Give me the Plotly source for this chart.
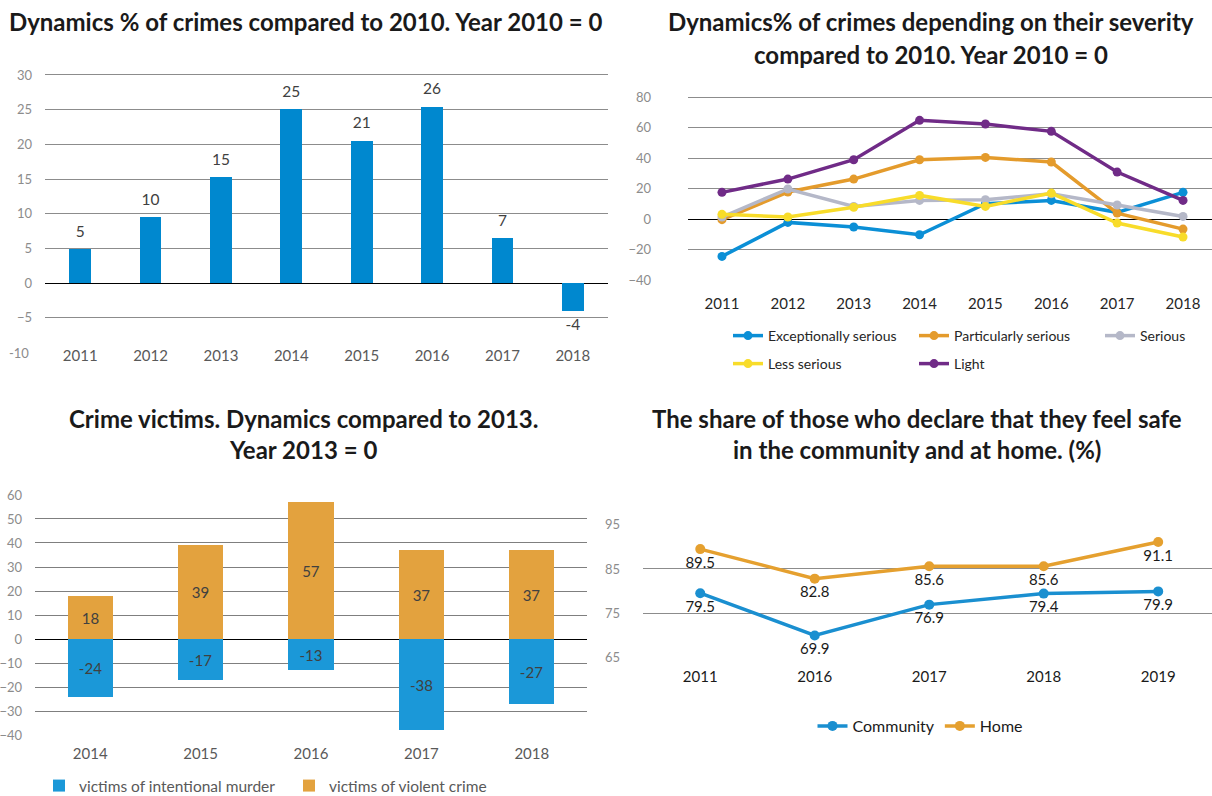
import plotly.graph_objects as go

W, H = 1212, 796

# --- data -------------------------------------------------------------
tl_years = ["2011", "2012", "2013", "2014", "2015", "2016", "2017", "2018"]
tl_values = [5.0, 9.6, 15.3, 25.1, 20.6, 25.5, 6.6, -4.0]

tr_years = ["2011", "2012", "2013", "2014", "2015", "2016", "2017", "2018"]
tr_exceptional = [-24.5, -2.2, -5.2, -10.3, 10.0, 12.2, 4.4, 17.5]
tr_particular = [-0.4, 17.7, 26.2, 38.9, 40.4, 37.4, 3.9, -6.6]
tr_serious = [1.3, 19.7, 8.3, 12.2, 12.7, 16.6, 9.2, 1.7]
tr_less = [3.1, 1.3, 7.7, 15.5, 8.3, 17.0, -2.6, -11.8]
tr_light = [17.5, 26.2, 38.9, 64.7, 62.3, 57.5, 30.8, 12.2]

bl_years = ["2014", "2015", "2016", "2017", "2018"]
bl_murder = [-24, -17, -13, -38, -27]
bl_violent = [18, 39, 57, 37, 37]

br_years = ["2011", "2016", "2017", "2018", "2019"]
br_community = [79.5, 69.9, 76.9, 79.4, 79.9]
br_home = [89.5, 82.8, 85.6, 85.6, 91.1]

FONT = "Lato, 'Open Sans', sans-serif"


def px_x(x):
    return x / W


def px_y(y):
    return 1 - y / H


def xdom(a, b):
    return [px_x(a), px_x(b)]


def ydom(top, bottom):
    return [px_y(bottom), px_y(top)]


fig = go.Figure()

# --- top left: bars ---------------------------------------------------
fig.add_trace(go.Bar(
    x=tl_years, y=tl_values, marker=dict(color="#0088cf", line=dict(width=0)),
    width=0.31, xaxis="x", yaxis="y", showlegend=False, hoverinfo="skip",
))
fig.add_trace(go.Scatter(
    x=tl_years, y=tl_values, mode="markers+text",
    text=[f"{v:.0f}" for v in tl_values],
    textposition=["top center" if v >= 0 else "bottom center" for v in tl_values],
    textfont=dict(size=15.5, color="#404040", family=FONT),
    marker=dict(size=11, color="rgba(0,0,0,0)"),
    xaxis="x", yaxis="y", showlegend=False, hoverinfo="skip", cliponaxis=False,
))

# --- top right: severity lines ----------------------------------------
tr_series = [
    ("Exceptionally serious", tr_exceptional, "#0b8fd6", "legend"),
    ("Particularly serious", tr_particular, "#e49b2c", "legend"),
    ("Serious", tr_serious, "#b5b8c8", "legend"),
    ("Less serious", tr_less, "#f8dc2a", "legend2"),
    ("Light", tr_light, "#702b87", "legend2"),
]
for name, vals, col, leg in tr_series:
    fig.add_trace(go.Scatter(
        x=tr_years, y=vals, name=name, mode="lines+markers",
        line=dict(color=col, width=3.5), marker=dict(size=9, color=col),
        xaxis="x2", yaxis="y2", legend=leg, cliponaxis=False,
    ))

# --- bottom left: victims stacked bars --------------------------------
fig.add_trace(go.Bar(
    x=bl_years, y=bl_murder, name="victims of intentional murder",
    marker=dict(color="#1b98d8", line=dict(width=0)), width=0.41,
    text=[str(v) for v in bl_murder], textposition="inside", insidetextanchor="middle",
    textfont=dict(size=15, color="#404040", family=FONT),
    xaxis="x3", yaxis="y3", legend="legend3",
))
fig.add_trace(go.Bar(
    x=bl_years, y=bl_violent, name="victims of violent crime",
    marker=dict(color="#e3a23e", line=dict(width=0)), width=0.41,
    text=[str(v) for v in bl_violent], textposition="inside", insidetextanchor="middle",
    textfont=dict(size=15, color="#404040", family=FONT),
    xaxis="x3", yaxis="y3", legend="legend3",
))

# --- bottom right: feel safe ------------------------------------------
for name, vals, col in [("Community", br_community, "#1a8fd0"), ("Home", br_home, "#e5a02f")]:
    fig.add_trace(go.Scatter(
        x=br_years, y=vals, name=name, mode="lines+markers+text",
        text=[f"{v:.1f}" for v in vals], textposition="bottom center",
        textfont=dict(size=15, color="#1a1a1a", family=FONT),
        line=dict(color=col, width=3.5), marker=dict(size=10, color=col),
        xaxis="x4", yaxis="y4", legend="legend4", cliponaxis=False,
    ))

grid = "#8c8c8c"
ytick = dict(size=13, color="#8c8c8c", family=FONT)
common = dict(automargin=False, fixedrange=True, showline=False, ticks="")

fig.update_layout(
    template="none",
    width=W, height=H, margin=dict(l=0, r=0, t=0, b=0, autoexpand=False),
    paper_bgcolor="white", plot_bgcolor="white",
    font=dict(family=FONT, color="#404040"),
    barmode="relative", bargap=0,
    xaxis=dict(domain=xdom(45, 608), type="category", range=[-0.5, 7.5],
               showgrid=False, tickfont=dict(size=15, color="#595959", family=FONT),
               ticklabelstandoff=3, anchor="y", **common),
    yaxis=dict(domain=ydom(73.6, 342), range=[-8.5, 30.2], dtick=5,
               showgrid=True, gridcolor=grid, gridwidth=1,
               zeroline=True, zerolinecolor="#000000", zerolinewidth=1,
               tickfont=ytick, ticklabelstandoff=12, anchor="x", **common),
    xaxis2=dict(domain=xdom(688, 1212), type="category", range=[-0.516, 7.44],
                showgrid=False, tickfont=dict(size=15, color="#262626", family=FONT),
                ticklabelstandoff=12, anchor="y2", **common),
    yaxis2=dict(domain=ydom(95.5, 280.5), range=[-40.3, 81], dtick=20,
                showgrid=True, gridcolor=grid, gridwidth=1,
                zeroline=True, zerolinecolor="#000000", zerolinewidth=1,
                tickfont=ytick, ticklabelstandoff=36, anchor="x2", **common),
    xaxis3=dict(domain=xdom(35, 587), type="category", range=[-0.5, 4.5],
                showgrid=False, tickfont=dict(size=15, color="#595959", family=FONT),
                ticklabelstandoff=7, anchor="y3", **common),
    yaxis3=dict(domain=ydom(494, 735.8), range=[-40.3, 60.4], dtick=10,
                showgrid=True, gridcolor="#7f7f7f", gridwidth=1,
                zeroline=True, zerolinecolor="#000000", zerolinewidth=1,
                tickfont=ytick, ticklabelstandoff=12, anchor="x3", **common),
    xaxis4=dict(domain=xdom(643, 1212), type="category", range=[-0.5, 4.47],
                showgrid=False, tickfont=dict(size=15, color="#1a1a1a", family=FONT),
                ticklabelstandoff=8, anchor="y4", **common),
    yaxis4=dict(domain=ydom(524, 657.5), range=[64.9, 95.2], dtick=10, tick0=65,
                showgrid=True, gridcolor=grid, gridwidth=1, zeroline=False,
                tickfont=ytick, ticklabelstandoff=22, anchor="x4", **common),
    legend=dict(orientation="h", x=px_x(728), y=px_y(336), xanchor="left", yanchor="middle",
                entrywidth=141, entrywidthmode="pixels",
                font=dict(size=14, color="#262626", family=FONT), bgcolor="rgba(0,0,0,0)"),
    legend2=dict(orientation="h", x=px_x(728), y=px_y(364), xanchor="left", yanchor="middle",
                 entrywidth=141, entrywidthmode="pixels",
                 font=dict(size=14, color="#262626", family=FONT), bgcolor="rgba(0,0,0,0)"),
    legend3=dict(orientation="h", x=px_x(39), y=px_y(786), xanchor="left", yanchor="middle",
                 entrywidth=205, entrywidthmode="pixels",
                 font=dict(size=15.5, color="#595959", family=FONT), bgcolor="rgba(0,0,0,0)"),
    legend4=dict(orientation="h", x=px_x(920), y=px_y(726), xanchor="center", yanchor="middle",
                 font=dict(size=16, color="#1a1a1a", family=FONT), bgcolor="rgba(0,0,0,0)"),
)

# Excel puts the lowest tick label of the first chart level with the categories
fig.add_annotation(text="-10", xref="paper", yref="paper", x=px_x(31), y=px_y(353),
                   xanchor="right", yanchor="middle", showarrow=False, font=ytick)

titles = [
    ("Dynamics % of crimes compared to 2010. Year 2010 = 0", 306, 22),
    ("Dynamics% of crimes depending on their severity", 931, 22),
    ("compared to 2010. Year 2010 = 0", 931, 54),
    ("Crime victims. Dynamics compared to 2013.", 303, 418),
    ("Year 2013 = 0", 303, 449),
    ("The share of those who declare that they feel safe", 917, 418),
    ("in the community and at home. (%)", 917, 449),
]
for text, x, y in titles:
    fig.add_annotation(text=text, xref="paper", yref="paper", x=px_x(x), y=px_y(y),
                       xanchor="center", yanchor="middle", showarrow=False,
                       font=dict(size=24, color="#1a1a1a", family=FONT, weight="bold"))

# the page body keeps its default 8px margin otherwise
fig.write_html("out.html", config={"displayModeBar": False},
               post_script="document.body.style.margin = '0';")
